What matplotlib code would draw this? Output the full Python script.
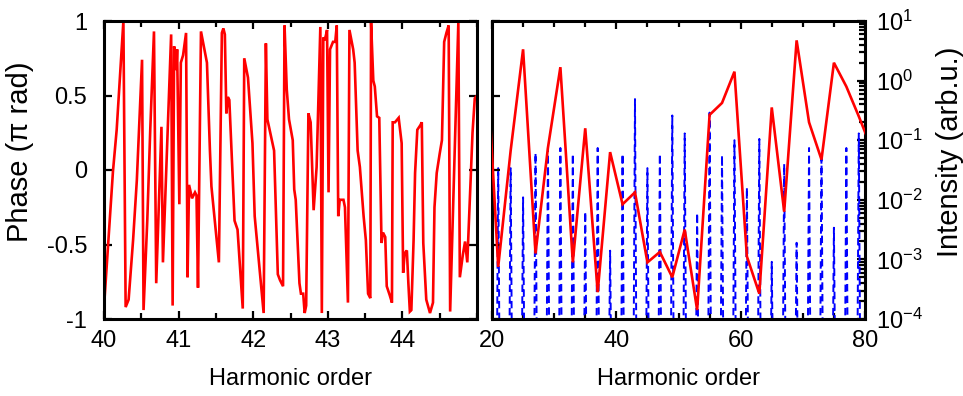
import matplotlib
matplotlib.use('Agg')
import matplotlib.pyplot as plt
import numpy as np
from matplotlib.ticker import MultipleLocator, LogLocator, NullFormatter, FuncFormatter, FixedLocator

# ---------------- data ----------------
# Left panel: phase (pi rad) vs harmonic order
h_fine = [40.00, 40.05, 40.12, 40.17, 40.26, 40.29, 40.33, 40.39, 40.44, 40.51,
          40.53, 40.58, 40.62, 40.67, 40.70, 40.77, 40.79, 40.90, 40.92, 40.94,
          40.97, 40.98, 41.01, 41.03, 41.06, 41.10, 41.12, 41.14, 41.18, 41.22,
          41.24, 41.26, 41.30, 41.38, 41.42, 41.44, 41.54, 41.58, 41.60, 41.62,
          41.64, 41.66, 41.68, 41.75, 41.79, 41.86, 41.88, 41.93, 41.99, 42.02,
          42.14, 42.17, 42.19, 42.28, 42.33, 42.36, 42.40, 42.42, 42.45, 42.48,
          42.53, 42.55, 42.57, 42.62, 42.64, 42.67, 42.69, 42.71, 42.74, 42.77,
          42.81, 42.85, 42.90, 42.92, 42.94, 42.96, 42.99, 43.01, 43.03, 43.07,
          43.10, 43.12, 43.14, 43.16, 43.21, 43.23, 43.27, 43.29, 43.34, 43.36,
          43.40, 43.43, 43.48, 43.51, 43.54, 43.57, 43.58, 43.61, 43.63, 43.66,
          43.69, 43.72, 43.74, 43.77, 43.79, 43.83, 43.86, 43.87, 43.90, 43.95,
          43.99, 44.01, 44.03, 44.06, 44.08, 44.10, 44.12, 44.15, 44.17, 44.20,
          44.24, 44.26, 44.28, 44.32, 44.37, 44.41, 44.43, 44.46, 44.50, 44.53,
          44.56, 44.59, 44.62, 44.64, 44.75, 44.77, 44.81, 44.84, 44.87, 44.91,
          44.94, 44.97, 45.00]
phase_fine = [-0.92, -0.54, -0.01, 0.27, 1.00, -0.92, -0.87, -0.47, -0.07, 0.74,
              -0.94, -0.34, 0.27, 0.93, -0.76, 0.29, -0.62, 0.91, -0.91, 0.83,
              0.67, 0.81, -0.23, 0.72, 0.77, 0.92, -0.72, -0.10, -0.19, -0.15,
              -0.17, -0.79, 0.93, 0.72, 0.13, -0.11, -0.62, 0.92, 0.95, 0.91,
              0.38, 0.49, 0.47, -0.34, -0.40, -0.93, 0.75, 0.62, 0.18, -0.31,
              -0.96, 0.85, 0.34, 0.13, -0.70, -0.74, -0.78, 0.97, 0.54, 0.34,
              0.20, -0.13, -0.20, -0.76, -0.83, -0.83, -0.96, -0.91, 0.38, 0.32,
              -0.27, 0.02, 0.96, -0.96, 0.89, 0.87, 0.94, -0.15, 0.81, 0.86,
              0.86, 0.97, -0.31, -0.20, -0.20, -0.25, -0.89, 0.94, 0.81, 0.72,
              0.13, 0.02, -0.31, -0.47, -0.83, -0.86, 0.99, 0.60, 0.56, 0.36,
              0.35, -0.49, -0.42, -0.45, -0.78, -0.84, -0.89, 0.32, 0.32, 0.35,
              0.18, -0.69, -0.56, -0.54, -0.76, -0.95, -0.94, -0.47, -0.02, 0.27,
              0.30, 0.32, -0.49, -0.87, -0.96, -0.89, -0.25, -0.02, 0.11, 0.20,
              0.86, 0.92, 0.97, -0.95, 0.99, -0.72, -0.57, -0.48, -0.62, -0.12,
              0.25, 0.48, 0.50]

# Right panel: phase at odd harmonics (red) and harmonic peak intensities (blue)
odd_orders = [19, 21, 23, 25, 27, 29, 31, 33, 35, 37, 39, 41, 43, 45, 47, 49,
              51, 53, 55, 57, 59, 61, 63, 65, 67, 69, 71, 73, 75, 77, 79, 81]
phase_odd = [0.87, -0.65, 0.13, 0.81, -0.56, 0.15, 0.69, -0.62, 0.28, -0.82,
             0.12, -0.23, -0.15, -0.62, -0.55, -0.72, -0.40, -0.94, 0.37, 0.45,
             0.66, -0.58, -0.83, 0.42, -0.28, 0.87, 0.32, 0.07, 0.72, 0.56,
             0.36, 0.15]
peak_orders = [21, 23, 25, 27, 29, 31, 33, 35, 37, 39, 41, 43, 45, 47, 49,
               51, 53, 55, 57, 59, 61, 63, 65, 67, 69, 71, 73, 75, 77, 79]
peak_int = [3.4e-2, 3.4e-2, 1.1e-2, 6.1e-2, 7.4e-2, 7.4e-2, 5.9e-2, 6.3e-3,
            7.4e-2, 1.4e-3, 5.9e-2, 4.9e-1, 3.4e-2, 5.9e-2, 2.6e-1, 1.3e-1,
            6.0e-3, 2.9e-1, 5.6e-2, 1.0e-1, 1.6e-2, 1.05e-1, 9.1e-4, 4.0e-2,
            1.9e-3, 7.4e-2, 6.1e-2, 3.4e-3, 7.4e-2, 1.3e-1]
floor_int = 1e-6
half_width = 0.3

# ---------------- style ----------------
plt.rcParams['font.family'] = ['Liberation Sans', 'DejaVu Sans']
plt.rcParams['axes.unicode_minus'] = False
plt.rcParams['mathtext.default'] = 'regular'
FS = 17
FS_YLAB = 21
RED = '#ff0000'
BLUE = '#0000ff'
LW_FRAME = 2.2

fig = plt.figure(figsize=(9.63, 3.96), dpi=100)
W, H = 963.0, 396.0
ax1 = fig.add_axes([104 / W, 1 - 319 / H, 373 / W, 298 / H])
ax2 = fig.add_axes([492 / W, 1 - 319 / H, 373 / W, 298 / H])
ax2p = ax2.twinx()

# ---- left panel ----
ax1.plot(h_fine, phase_fine, color=RED, lw=1.9, solid_joinstyle='miter')
ax1.set_xlim(40, 45)
ax1.set_ylim(-1, 1)
ax1.xaxis.set_major_locator(FixedLocator([40, 41, 42, 43, 44]))
ax1.xaxis.set_minor_locator(MultipleLocator(0.5))
ax1.yaxis.set_major_locator(MultipleLocator(0.5))
ax1.yaxis.set_major_formatter(FuncFormatter(lambda v, _: '%g' % v))
ax1.tick_params(which='both', direction='in', top=True, right=True,
                labelsize=FS, width=1.6)
ax1.tick_params(which='major', length=6)
ax1.tick_params(which='minor', length=4)
ax1.tick_params(axis='y', pad=12)
ax1.tick_params(axis='x', pad=8)
ax1.set_xlabel('Harmonic order', fontsize=FS)
ax1.xaxis.set_label_coords(0.5, -0.165)
ax1.set_ylabel('Phase (π rad)', fontsize=FS_YLAB)
ax1.yaxis.set_label_coords(-0.188, 0.56)
for s in ax1.spines.values():
    s.set_linewidth(LW_FRAME)

# ---- right panel: intensity (log, right axis) ----
xs, ys = [], []
for h, v in zip(peak_orders, peak_int):
    xs += [h - half_width, h, h + half_width]
    ys += [floor_int, v, floor_int]
ax2.plot(xs, ys, color=BLUE, lw=1.4, dashes=(3.8, 2.2))
ax2.set_yscale('log')
ax2.set_ylim(1e-4, 1e1)
ax2.set_xlim(20, 80)
ax2.xaxis.set_major_locator(MultipleLocator(20))
ax2.xaxis.set_minor_locator(MultipleLocator(5))
ax2.yaxis.set_major_locator(LogLocator(base=10, numticks=10))
ax2.yaxis.set_minor_locator(LogLocator(base=10, subs=np.arange(2, 10), numticks=10))
ax2.yaxis.set_minor_formatter(NullFormatter())
ax2.yaxis.set_major_formatter(FuncFormatter(lambda v, _: r'$10^{%d}$' % round(np.log10(v))))
ax2.yaxis.tick_right()
ax2.tick_params(which='both', direction='in', top=True, bottom=True,
                labelsize=FS, width=1.6)
ax2.tick_params(axis='y', which='both', left=False, right=True,
                labelleft=False, labelright=True, pad=8)
ax2.tick_params(axis='x', pad=8)
ax2.tick_params(which='major', length=6)
ax2.tick_params(which='minor', length=4)
ax2.yaxis.set_label_position('right')
ax2.set_xlabel('Harmonic order', fontsize=FS)
ax2.xaxis.set_label_coords(0.5, -0.165)
ax2.set_ylabel('Intensity (arb.u.)', fontsize=FS_YLAB)
ax2.yaxis.set_label_coords(1.19, 0.56)
for s in ax2.spines.values():
    s.set_linewidth(LW_FRAME)

# ---- right panel: phase at odd harmonics (linear, left axis) ----
ax2p.plot(odd_orders, phase_odd, color=RED, lw=1.9, solid_joinstyle='miter')
ax2p.set_ylim(-1, 1)
ax2p.set_xlim(20, 80)
ax2p.yaxis.set_major_locator(MultipleLocator(0.5))
ax2p.yaxis.tick_left()
ax2p.tick_params(axis='y', direction='in', left=True, right=False,
                 labelleft=False, labelright=False, length=6, width=1.6)
for s in ax2p.spines.values():
    s.set_visible(False)

fig.savefig('out.png', dpi=100)
